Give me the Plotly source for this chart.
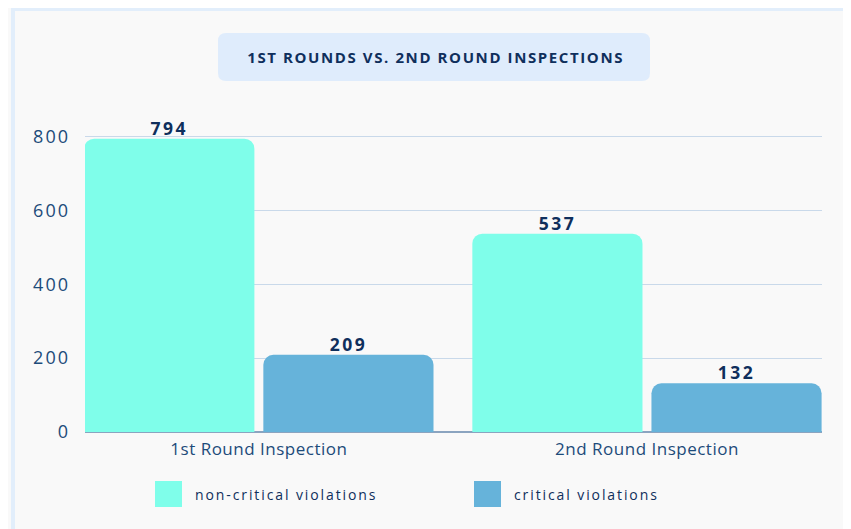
import plotly.graph_objects as go

categories = ["1st Round Inspection", "2nd Round Inspection"]
non_critical = [794, 537]
critical = [209, 132]
series_names = ["non-critical violations", "critical violations"]
series_colors = ["#7ffeea", "#66b3da"]
y_ticks = [0, 200, 400, 600, 800]
title_text = "1ST ROUNDS VS. 2ND ROUND INSPECTIONS"

W, H = 851, 529
OFF = 8  # page body margin
L, R, T, B = 85, 822, 118, 432
NAVY = "#0f2f5c"
TICK = "#1d4b7a"
FONT = "Open Sans"


def px(x):
    return (x - L) / (R - L)


def py(y):
    return (B - y) / (B - T)


def rounded_rect(x0, y0, x1, y1, r):
    # path in paper coords built from pixel positions
    pts = [
        f"M {px(x0 + r)} {py(y0)}",
        f"L {px(x1 - r)} {py(y0)}",
        f"Q {px(x1)} {py(y0)} {px(x1)} {py(y0 + r)}",
        f"L {px(x1)} {py(y1 - r)}",
        f"Q {px(x1)} {py(y1)} {px(x1 - r)} {py(y1)}",
        f"L {px(x0 + r)} {py(y1)}",
        f"Q {px(x0)} {py(y1)} {px(x0)} {py(y1 - r)}",
        f"L {px(x0)} {py(y0 + r)}",
        f"Q {px(x0)} {py(y0)} {px(x0 + r)} {py(y0)}",
        "Z",
    ]
    return " ".join(pts)


fig = go.Figure()
for name, vals, color in zip(series_names, [non_critical, critical], series_colors):
    fig.add_trace(
        go.Bar(
            x=categories,
            y=vals,
            name=name,
            marker=dict(color=color, line=dict(width=0)),
            text=vals,
            textposition="outside",
            textfont=dict(family=FONT, size=17.5, color=NAVY, weight="bold"),
            cliponaxis=False,
        )
    )

shapes = [
    # outer frame
    dict(type="rect", xref="paper", yref="paper",
         x0=px(13), x1=px(845), y0=py(9), y1=py(540),
         line=dict(color="#e2eefb", width=4), fillcolor="rgba(0,0,0,0)", layer="below"),
    # title box
    dict(type="path", xref="paper", yref="paper",
         path=rounded_rect(218, 33, 650, 81, 8),
         fillcolor="#dfecfc", line=dict(width=0), layer="below"),
]

annotations = [
    dict(text=f"<b>{title_text}</b>", xref="paper", yref="paper",
         x=px(435), y=py(57), xanchor="center", yanchor="middle", showarrow=False,
         font=dict(family=FONT, size=15, color=NAVY)),
]

legend_x = [155, 474]
for lx, name, color in zip(legend_x, series_names, series_colors):
    shapes.append(dict(type="rect", xref="paper", yref="paper",
                       x0=px(lx), x1=px(lx + 27), y0=py(481), y1=py(507),
                       fillcolor=color, line=dict(width=0)))
    annotations.append(dict(text=name, xref="paper", yref="paper",
                            x=px(lx + 38), y=py(494), xanchor="left", yanchor="middle",
                            align="left", showarrow=False,
                            font=dict(family=FONT, size=14, color=NAVY)))

fig.update_layout(
    width=W,
    height=H,
    margin=dict(l=L - OFF, r=W - R + OFF, t=T - OFF, b=H - B + OFF, pad=0),
    paper_bgcolor="#f9f9f9",
    plot_bgcolor="#f9f9f9",
    barmode="group",
    bargap=0.077,
    bargroupgap=0.05,
    barcornerradius=10,
    showlegend=False,
    shapes=shapes,
    annotations=annotations,
    xaxis=dict(
        range=[-0.448, 1.451],
        showgrid=False,
        showline=False,
        tickfont=dict(family=FONT, size=17, color=TICK),
        ticklabelstandoff=5,
    ),
    yaxis=dict(
        range=[0, 850],
        tickvals=y_ticks,
        showgrid=True,
        gridcolor="#c9d9ea",
        gridwidth=1,
        zeroline=True,
        zerolinecolor="#8ba4c0",
        zerolinewidth=1.5,
        tickfont=dict(family=FONT, size=18, color=TICK),
        ticklabelstandoff=14,
    ),
)

# letter spacing for the title, legend labels, ticks and bar values
spacing_js = """
var gd = document.getElementById('{plot_id}');
function spread() {
  gd.querySelectorAll('.annotation-text').forEach(function (t, i) {
    t.style.letterSpacing = i === 0 ? '1.6px' : '1.9px';
  });
  gd.querySelectorAll('.xtick text').forEach(function (t) {
    t.style.letterSpacing = '0.5px';
  });
  gd.querySelectorAll('.ytick text').forEach(function (t) {
    t.style.letterSpacing = '2px';
  });
  gd.querySelectorAll('text.bartext').forEach(function (t) {
    t.style.letterSpacing = '2.5px';
    if (!t.dataset.shifted) {
      var tr = t.getAttribute('transform') || '';
      t.setAttribute('transform', tr + ' translate(0,4)');
      t.dataset.shifted = '1';
    }
  });
}
spread();
gd.on('plotly_afterplot', spread);
"""

fig.write_html("out.html", post_script=spacing_js)
